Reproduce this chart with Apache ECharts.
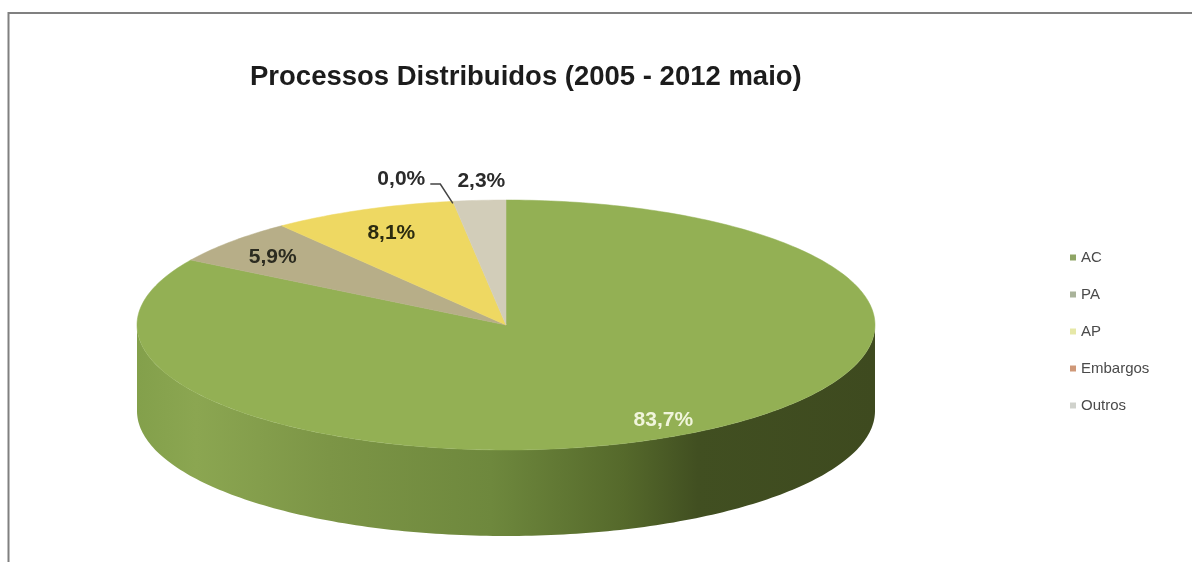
<!DOCTYPE html>
<html>
<head>
<meta charset="utf-8">
<title>Processos Distribuidos</title>
<script src="https://cdn.jsdelivr.net/npm/echarts@6/dist/echarts.min.js"></script>
<style>
  html, body { margin: 0; padding: 0; background: #fff; }
  #chart { width: 1192px; height: 562px; }
</style>
</head>
<body>
<div id="chart"></div>
<script>
const titleText = 'Processos Distribuidos (2005 - 2012 maio)';
const categories = ['AC', 'PA', 'AP', 'Embargos', 'Outros'];
const shares = [83.7, 5.9, 8.1, 0.0, 2.3];
const sliceColors = ['#93b054', '#b7ae88', '#eed862', '#c0785a', '#d2cdb9'];
const legendColors = ['#8fa565', '#a9b39a', '#e6e8a8', '#cf9878', '#d0d2cc'];

// Oblique disc geometry shared by every slice
const disc = { cx: 506, cy: 325, rx: 369, ry: 125, depth: 86 };
const total = shares.reduce((a, b) => a + b, 0);

// Clockwise angle from 12 o'clock, in degrees, where each slice starts
const sliceStart = [];
shares.reduce((sum, v, i) => { sliceStart[i] = sum / total * 360; return sum + v; }, 0);

// How far along the radius each label sits, plus small nudges
const labelReach = [0.87, 0.85, 0.8, 1.18, 1.15];
const labelNudge = [0, 0, 0, -42, 6];
const labelDrop = [0, 3, 0, 0, 0];
const labelStyle = [
  { fill: '#f1f5dc' }, { fill: '#2b2b20' }, { fill: '#2b2b10' }, { fill: '#2b2b2b' }, { fill: '#2b2b2b' }
];

function rimPoint(deg, drop) {
  const a = deg * Math.PI / 180;
  return [disc.cx + disc.rx * Math.sin(a), disc.cy - disc.ry * Math.cos(a) + (drop || 0)];
}

function sampleRim(from, to, drop) {
  const pts = [];
  const steps = Math.max(2, Math.ceil(to - from));
  for (let k = 0; k <= steps; k++) pts.push(rimPoint(from + (to - from) * k / steps, drop));
  return pts;
}

// Wall shading runs left to right across the front of the disc
const wallFill = new echarts.graphic.LinearGradient(0, 0, 1, 0, [
  { offset: 0, color: '#83a04b' },
  { offset: 0.08, color: '#8ba651' },
  { offset: 0.26, color: '#7c9546' },
  { offset: 0.48, color: '#6e883d' },
  { offset: 0.66, color: '#55692b' },
  { offset: 0.76, color: '#414f21' },
  { offset: 1, color: '#3e4a1f' }
]);

function renderSlice(i) {
  const from = sliceStart[i];
  const to = from + shares[i] / total * 360;
  const children = [];

  // Front wall: the part of the slice that faces the viewer (90° to 270°)
  const wallFrom = Math.max(from, 90);
  const wallTo = Math.min(to, 270);
  if (wallTo > wallFrom) {
    const top = sampleRim(wallFrom, wallTo, 0);
    const bottom = sampleRim(wallFrom, wallTo, disc.depth).reverse();
    children.push({ type: 'polygon', shape: { points: top.concat(bottom) }, style: { fill: wallFill } });
  }

  // Top face
  if (to > from) {
    children.push({
      type: 'polygon',
      shape: { points: [[disc.cx, disc.cy]].concat(sampleRim(from, to, 0)) },
      style: { fill: sliceColors[i], stroke: sliceColors[i], lineWidth: 0.5 }
    });
  }

  // Percentage label along the mid-angle of the slice
  const mid = (from + to) / 2;
  const a = mid * Math.PI / 180;
  const reach = labelReach[i];
  const lx = disc.cx + disc.rx * Math.sin(a) * reach + labelNudge[i];
  const ly = disc.cy - disc.ry * Math.cos(a) * reach + labelDrop[i];
  children.push({
    type: 'text',
    z2: 10,
    style: Object.assign({
      x: lx, y: ly,
      text: shares[i].toFixed(1).replace('.', ',') + '%',
      font: 'bold 21px "Liberation Sans", Arial, sans-serif',
      align: 'center', verticalAlign: 'middle'
    }, labelStyle[i])
  });

  // Leader line for a slice too thin to hold its own label
  if (shares[i] === 0) {
    const edge = rimPoint(mid, 2);
    children.push({
      type: 'polyline',
      z2: 10,
      shape: { points: [[lx + 29, ly + 5], [lx + 39, ly + 5], edge] },
      style: { stroke: '#444444', lineWidth: 1.5, fill: null }
    });
  }
  return { type: 'group', children };
}

const chart = echarts.init(document.getElementById('chart'), null, { renderer: 'canvas' });
chart.setOption({
  animation: false,
  backgroundColor: '#ffffff',
  title: {
    text: titleText,
    left: 245,
    top: 58,
    textStyle: { fontFamily: '"Liberation Sans", Arial, sans-serif', fontWeight: 'bold', fontSize: 27.5, color: '#1c1c1c' }
  },
  legend: {
    orient: 'vertical',
    left: 1065,
    top: 245,
    itemWidth: 6,
    itemHeight: 6,
    itemGap: 22,
    icon: 'rect',
    textStyle: { fontFamily: '"Liberation Sans", Arial, sans-serif', fontSize: 15, color: '#4a4a4a' },
    data: categories.map((name, i) => ({ name, itemStyle: { color: legendColors[i] } }))
  },
  graphic: [
    {
      type: 'polyline',
      silent: true,
      shape: { points: [[8.5, 562], [8.5, 13], [1192, 13]] },
      style: { stroke: '#808080', lineWidth: 2, fill: null }
    }
  ],
  series: categories.map((name, i) => ({
    type: 'custom',
    name,
    coordinateSystem: 'none',
    itemStyle: { color: sliceColors[i] },
    data: [shares[i]],
    renderItem: () => renderSlice(i)
  }))
});
</script>
</body>
</html>
